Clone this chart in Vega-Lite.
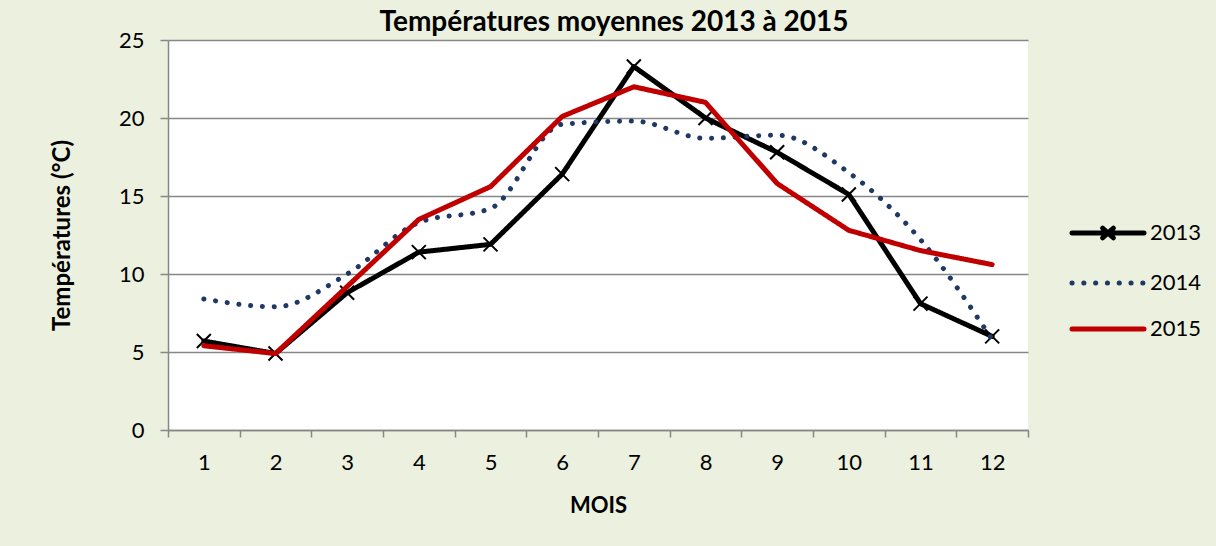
{
  "$schema": "https://vega.github.io/schema/vega-lite/v6.json",
  "width": 860,
  "height": 390,
  "autosize": "none",
  "padding": {"left": 168, "top": 40, "right": 188, "bottom": 116},
  "background": "#EBF1DE",
  "config": {
    "view": {"fill": "white", "stroke": null},
    "font": "Lato"
  },
  "title": {
    "text": "Températures moyennes 2013 à 2015",
    "font": "Lato",
    "fontSize": 28,
    "fontWeight": "bold",
    "color": "black",
    "anchor": "middle",
    "frame": "group",
    "baseline": "alphabetic",
    "offset": 0,
    "dx": 16,
    "dy": 30
  },
  "data": {
    "values": [
      {"mois": 1, "annee": "2013", "temp": 5.7},
      {"mois": 2, "annee": "2013", "temp": 4.9},
      {"mois": 3, "annee": "2013", "temp": 8.8},
      {"mois": 4, "annee": "2013", "temp": 11.4},
      {"mois": 5, "annee": "2013", "temp": 11.9},
      {"mois": 6, "annee": "2013", "temp": 16.4},
      {"mois": 7, "annee": "2013", "temp": 23.3},
      {"mois": 8, "annee": "2013", "temp": 20.0},
      {"mois": 9, "annee": "2013", "temp": 17.8},
      {"mois": 10, "annee": "2013", "temp": 15.1},
      {"mois": 11, "annee": "2013", "temp": 8.1},
      {"mois": 12, "annee": "2013", "temp": 6.0},
      {"mois": 1, "annee": "2014", "temp": 8.4},
      {"mois": 2, "annee": "2014", "temp": 7.9},
      {"mois": 3, "annee": "2014", "temp": 10.0},
      {"mois": 4, "annee": "2014", "temp": 13.3},
      {"mois": 5, "annee": "2014", "temp": 14.2},
      {"mois": 6, "annee": "2014", "temp": 19.6},
      {"mois": 7, "annee": "2014", "temp": 19.8},
      {"mois": 8, "annee": "2014", "temp": 18.7},
      {"mois": 9, "annee": "2014", "temp": 18.9},
      {"mois": 10, "annee": "2014", "temp": 16.5},
      {"mois": 11, "annee": "2014", "temp": 12.2},
      {"mois": 12, "annee": "2014", "temp": 5.8},
      {"mois": 1, "annee": "2015", "temp": 5.4},
      {"mois": 2, "annee": "2015", "temp": 4.9},
      {"mois": 3, "annee": "2015", "temp": 9.2},
      {"mois": 4, "annee": "2015", "temp": 13.5},
      {"mois": 5, "annee": "2015", "temp": 15.6},
      {"mois": 6, "annee": "2015", "temp": 20.1},
      {"mois": 7, "annee": "2015", "temp": 22.0},
      {"mois": 8, "annee": "2015", "temp": 21.0},
      {"mois": 9, "annee": "2015", "temp": 15.8},
      {"mois": 10, "annee": "2015", "temp": 12.8},
      {"mois": 11, "annee": "2015", "temp": 11.5},
      {"mois": 12, "annee": "2015", "temp": 10.6}
    ]
  },
  "encoding": {
    "x": {
      "field": "mois",
      "type": "ordinal",
      "bandPosition": 0.5,
      "scale": {"type": "band", "paddingInner": 0, "paddingOuter": 0},
      "axis": {
        "title": "MOIS",
        "titleFont": "Lato",
        "titleFontSize": 22,
        "titleFontWeight": "bold",
        "titleColor": "black",
        "titlePadding": 22,
        "labelFont": "Lato",
        "labelFontSize": 22,
        "labelColor": "black",
        "labelAngle": 0,
        "labelPadding": 15,
        "tickBand": "extent",
        "tickSize": 7,
        "tickColor": "#878787",
        "tickWidth": 1.5,
        "domainColor": "#878787",
        "domainWidth": 1.5,
        "grid": false
      }
    },
    "y": {
      "field": "temp",
      "type": "quantitative",
      "scale": {"domain": [0, 25], "nice": false, "zero": true},
      "axis": {
        "title": "Températures (°C)",
        "titleFont": "Lato",
        "titleFontSize": 24,
        "titleFontWeight": "bold",
        "titleColor": "black",
        "titlePadding": 44,
        "values": [0, 5, 10, 15, 20, 25],
        "labelFont": "Lato",
        "labelFontSize": 22,
        "labelColor": "black",
        "labelPadding": 16,
        "tickSize": 8,
        "tickColor": "#878787",
        "tickWidth": 1.5,
        "domainColor": "#878787",
        "domainWidth": 1.5,
        "grid": true,
        "gridColor": "#878787",
        "gridWidth": 1.5
      }
    }
  },
  "layer": [
    {
      "transform": [{"filter": "datum.annee == '2013'"}],
      "mark": {"type": "line", "strokeWidth": 5, "strokeCap": "round", "strokeJoin": "round"},
      "encoding": {
        "color": {
          "field": "annee", "type": "nominal",
          "scale": {"domain": ["2013", "2014", "2015"], "range": ["#000000", "#1F3864", "#C00000"]},
          "legend": {
            "title": null, "orient": "none", "legendX": 929, "legendY": 182,
            "symbolSize": 144, "labelFont": "Lato", "labelFontSize": 22, "labelColor": "black",
            "labelOffset": 31, "rowPadding": 24,
            "encode": {"symbols": {"update": {
              "shape": {"signal": "datum.value == '2013' ? 'M-6,0H6M-0.9,-0.8L0.9,0.8M-0.9,0.8L0.9,-0.8' : 'M-6,0H6'"},
              "strokeWidth": {"value": 5},
              "strokeCap": {"value": "round"},
              "fill": {"value": "transparent"}
            }}}
          }
        },
        "strokeDash": {
          "field": "annee", "type": "nominal",
          "scale": {"domain": ["2013", "2014", "2015"], "range": [[1, 0], [0.1, 11.7], [1, 0]]},
          "legend": {"title": null}
        }
      }
    },
    {
      "transform": [{"filter": "datum.annee == '2013'"}],
      "mark": {"type": "point", "shape": "M-1,-1L1,1M-1,1L1,-1", "size": 196, "filled": false, "color": "black", "strokeWidth": 2, "opacity": 1}
    },
    {
      "transform": [{"filter": "datum.annee == '2014'"}],
      "mark": {"type": "line", "strokeWidth": 5, "strokeCap": "round", "strokeJoin": "round", "interpolate": "monotone"},
      "encoding": {
        "color": {"field": "annee", "type": "nominal", "legend": {"title": null}},
        "strokeDash": {"field": "annee", "type": "nominal", "legend": {"title": null}}
      }
    },
    {
      "transform": [{"filter": "datum.annee == '2015'"}],
      "mark": {"type": "line", "strokeWidth": 5, "strokeCap": "round", "strokeJoin": "round"},
      "encoding": {
        "color": {"field": "annee", "type": "nominal", "legend": {"title": null}},
        "strokeDash": {"field": "annee", "type": "nominal", "legend": {"title": null}}
      }
    }
  ]
}
